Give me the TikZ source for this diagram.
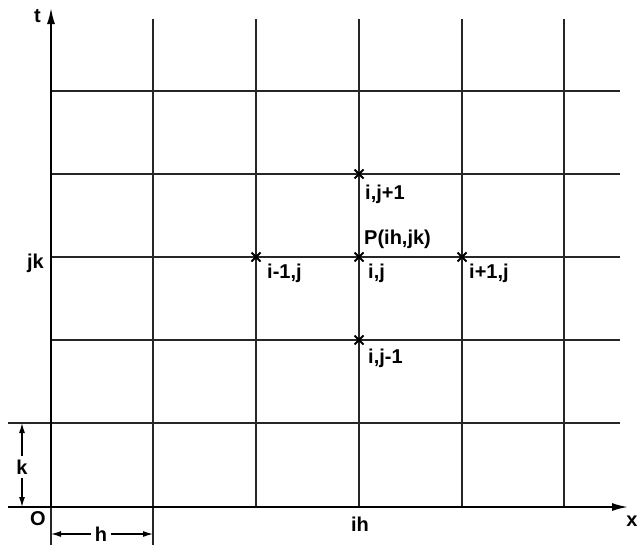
\documentclass[tikz,border=0pt]{standalone}
\usepackage{fontspec}
\setmainfont{Liberation Sans}
\usetikzlibrary{arrows.meta,calc}
\begin{document}
\begin{tikzpicture}[x=1pt,y=-1pt,
  grid/.style={line width=1.6pt,black!85},
  axis/.style={line width=1.8pt,-{Latex[length=16pt,width=8pt]}},
  dim/.style={line width=1.2pt,-{Latex[length=10pt,width=6pt]}},
  lbl/.style={font=\fontsize{20}{20}\selectfont\bfseries,inner sep=0pt},
  ptmark/.style={line width=1.8pt}]
\useasboundingbox (0,0) rectangle (639,546);
% vertical grid lines
\foreach \x in {153,256,359,462,564} \draw[grid] (\x,19) -- (\x,507);
\draw[grid] (153,507) -- (153,545);
\draw[grid] (51,507) -- (51,545);
% horizontal grid lines
\foreach \y in {91,174,257,340} \draw[grid] (51,\y) -- (620,\y);
\draw[grid] (8,423) -- (620,423);
% axes
\coordinate (o) at (51,507);
\coordinate (tend) at (51,8);
\coordinate (xend) at (628,507);
\coordinate (xstart) at (8,507);
\draw[axis] (o) -- (tend);
\draw[axis] (xstart) -- (xend);
\node[lbl,anchor=east] (t) at (41,16) {t};
\node[lbl] (x) at (632,521) {x};
\node[lbl] (O) at (38,519) {O};
\node[lbl] (ih) at (360,524) {ih};
\node[lbl,anchor=east] (jk) at (44,263) {jk};
% dimensions
\coordinate (ka) at (22,423);
\coordinate (kb) at (22,507);
\node[lbl,inner sep=4pt] (k) at (22,467) {k};
\draw[dim] (k) -- (ka);
\draw[dim] (k) -- (kb);
\coordinate (ha) at (51,534);
\coordinate (hb) at (153,534);
\node[lbl,inner sep=4pt] (h) at (101,534) {h};
\draw[dim] (h) -- (ha);
\draw[dim] (h) -- (hb);
% grid points
\foreach \n/\p in {up/{359,174},left/{256,257},c/{359,257},right/{462,257},down/{359,340}} {
  \coordinate (\n) at (\p);
  \draw[ptmark] ($(\n)+(-4.5,-4.5)$) -- ($(\n)+(4.5,4.5)$) ($(\n)+(-4.5,4.5)$) -- ($(\n)+(4.5,-4.5)$);
}
\node[lbl,anchor=west] (lup) at (365,194) {i,j+1};
\node[lbl,anchor=west] (P) at (364,239) {P(ih,jk)};
\node[lbl,anchor=west] (lleft) at (267,273) {i-1,j};
\node[lbl,anchor=west] (lc) at (368,273) {i,j};
\node[lbl,anchor=west] (lright) at (469,273) {i+1,j};
\node[lbl,anchor=west] (ldown) at (368,358) {i,j-1};
\end{tikzpicture}
\end{document}
